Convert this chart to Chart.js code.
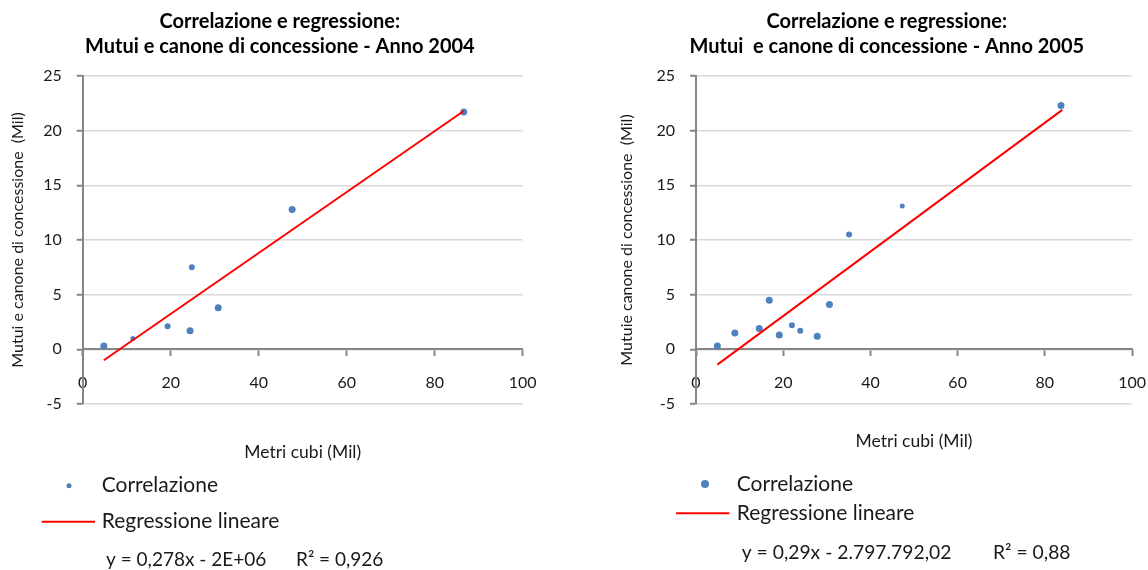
<!DOCTYPE html>
<html>
<head>
<meta charset="utf-8">
<script src="https://cdn.jsdelivr.net/npm/chart.js@4/dist/chart.umd.min.js"></script>
<style>
  html, body { margin: 0; padding: 0; background: #fff; overflow: hidden; }
  .box { position: absolute; top: 0; }
</style>
</head>
<body>
<div class="box" style="left:0px"><canvas id="chart2004" width="540" height="570"></canvas></div>
<div class="box" style="left:600px"><canvas id="chart2005" width="548" height="570"></canvas></div>
<script>
    // Anno 2004 - metri cubi (Mil) vs mutui e canone (Mil)
    var x2004 = [4.8, 11.4, 19.3, 24.4, 24.8, 30.8, 47.6, 86.6];
    var y2004 = [0.3, 1.0, 2.1, 1.7, 7.5, 3.8, 12.8, 21.7];
    var r2004 = [3.5, 2.5, 3, 3.5, 3, 3.5, 3.5, 3.5];
    var fitX2004 = [4.8, 86.6];
    var fitY2004 = [-1.0, 21.8];
    var title2004 = ["Correlazione e regressione:", "Mutui e canone di concessione - Anno 2004"];
    var yTitle2004 = "Mutui e canone di concessione  (Mil)";
    var eq2004 = "y = 0,278x - 2E+06";
    var rsq2004 = "R\u00b2 = 0,926";

    // Anno 2005
    var x2005 = [4.9, 8.9, 14.5, 16.8, 19.1, 22.0, 23.9, 27.8, 30.6, 35.1, 47.3, 83.7];
    var y2005 = [0.3, 1.5, 1.9, 4.5, 1.3, 2.2, 1.7, 1.2, 4.1, 10.5, 13.1, 22.3];
    var r2005 = [3.5, 3.5, 3.5, 3.5, 3.5, 3, 3, 3.5, 3.5, 3, 2.5, 3.5];
    var fitX2005 = [4.9, 84.0];
    var fitY2005 = [-1.4, 21.9];
    var title2005 = ["Correlazione e regressione:", "Mutui  e canone di concessione - Anno 2005"];
    var yTitle2005 = "Mutuie canone di concessione  (Mil)";
    var eq2005 = "y = 0,29x - 2.797.792,02";
    var rsq2005 = "R\u00b2 = 0,88";

    var xTicks = [0, 20, 40, 60, 80, 100];
    var yTicks = [-5, 0, 5, 10, 15, 20, 25];

    var FONT = "Lato";
    var AXIS = "#868686";

    // legend under the plot, one entry per line, plus the trend line equation
    var legendBelow = {
        id: 'legendBelow',
        afterDraw: function(chart, args, o) {
            var ctx = chart.ctx;
            var pts = chart.data.datasets[0];
            var fit = chart.data.datasets[1];
            ctx.save();
            ctx.textBaseline = 'middle';
            ctx.textAlign = 'left';
            ctx.fillStyle = pts.backgroundColor;
            ctx.beginPath();
            ctx.arc(o.dotX, o.y1, o.dotR, 0, Math.PI * 2);
            ctx.fill();
            ctx.strokeStyle = fit.borderColor;
            ctx.lineWidth = 2;
            ctx.beginPath();
            ctx.moveTo(o.lineX1, o.y2);
            ctx.lineTo(o.lineX2, o.y2);
            ctx.stroke();
            ctx.fillStyle = '#1a1a1a';
            ctx.font = o.size + 'px ' + FONT;
            ctx.fillText(pts.label, o.textX, o.y1);
            ctx.fillText(fit.label, o.textX, o.y2);
            ctx.font = o.eqSize + 'px ' + FONT;
            ctx.fillText(o.eq, o.eqX, o.y3);
            ctx.fillText(o.rsq, o.rsqX, o.y3);
            ctx.restore();
        }
    };

    function makeChart(id, xs, ys, radii, fitX, fitY, title, yTitle, lay) {
        var points = xs.map(function(x, i) { return {x: x, y: ys[i]}; });
        var line = fitX.map(function(x, i) { return {x: x, y: fitY[i]}; });
        return new Chart(id, {
            type: 'scatter',
            data: {
                datasets: [{
                    label: 'Correlazione',
                    data: points,
                    backgroundColor: '#4F81BD',
                    borderWidth: 0,
                    pointRadius: radii,
                    order: 1
                }, {
                    label: 'Regressione lineare',
                    data: line,
                    showLine: true,
                    borderColor: '#FF0000',
                    borderWidth: 2,
                    pointRadius: 0,
                    order: 0
                }]
            },
            options: {
                responsive: false,
                animation: false,
                layout: {
                    padding: {left: lay.padL, right: lay.padR, top: 0, bottom: 166}
                },
                plugins: {
                    legend: {display: false},
                    tooltip: {enabled: false},
                    title: {
                        display: true,
                        text: title,
                        color: '#000',
                        font: {family: FONT, size: 20, weight: 'bold', lineHeight: 25 / 20},
                        padding: {top: 9, bottom: 17}
                    },
                    legendBelow: lay.legend
                },
                scales: {
                    x: {
                        type: 'linear',
                        min: 0,
                        max: 100,
                        position: {y: 0},
                        afterBuildTicks: function(s) { s.ticks = xTicks.map(function(v) { return {value: v}; }); },
                        // tall line height drops the labels well below the zero line, as in the original
                        ticks: {padding: 2, color: '#1a1a1a', font: {family: FONT, size: 16, lineHeight: 3.2}, autoSkip: false, maxRotation: 0},
                        grid: {drawOnChartArea: false, drawTicks: true, tickLength: 6, tickColor: AXIS, tickWidth: 2},
                        border: {color: AXIS, width: 2},
                        title: {display: true, text: 'Metri cubi (Mil)', color: '#1a1a1a', font: {family: FONT, size: 17.5}, padding: 0},
                        afterFit: function(s) { s.height = lay.xTitleH; }
                    },
                    y: {
                        type: 'linear',
                        min: -5,
                        max: 25,
                        afterBuildTicks: function(s) { s.ticks = yTicks.map(function(v) { return {value: v}; }); },
                        ticks: {padding: 15, color: '#1a1a1a', font: {family: FONT, size: 16}},
                        grid: {color: '#D9D9D9', lineWidth: 1.5, drawTicks: true, tickLength: 6, tickColor: AXIS, tickWidth: 2},
                        border: {color: AXIS, width: 2},
                        title: {display: true, text: yTitle, color: '#1a1a1a', font: {family: FONT, size: 16}, padding: {top: lay.yTitlePad, bottom: 0}},
                        afterFit: function(s) { s.width = lay.yWidth; }
                    }
                }
            },
            plugins: [legendBelow]
        });
    }

    window.onload = function() {
        makeChart('chart2004', x2004, y2004, r2004, fitX2004, fitY2004, title2004, yTitle2004, {
            padL: 37, padR: 17.3, yWidth: 45.7, yTitlePad: -28.6, xTitleH: 114,
            legend: {dotX: 69, dotR: 2.5, lineX1: 41.7, lineX2: 95, textX: 101.7, y1: 485.7, y2: 521.7,
                     size: 21, eq: eq2004, rsq: rsq2004, eqX: 106, rsqX: 296, y3: 560, eqSize: 19}
        });
        makeChart('chart2005', x2005, y2005, r2005, fitX2005, fitY2005, title2005, yTitle2005, {
            padL: 41, padR: 15.3, yWidth: 55, yTitlePad: -23.6, xTitleH: 103,
            legend: {dotX: 105, dotR: 4, lineX1: 76, lineX2: 129.3, textX: 136.7, y1: 484, y2: 513.3,
                     size: 21, eq: eq2005, rsq: rsq2005, eqX: 141.7, rsqX: 393, y3: 552.7, eqSize: 19.3}
        });
    };
</script>
</body>
</html>
